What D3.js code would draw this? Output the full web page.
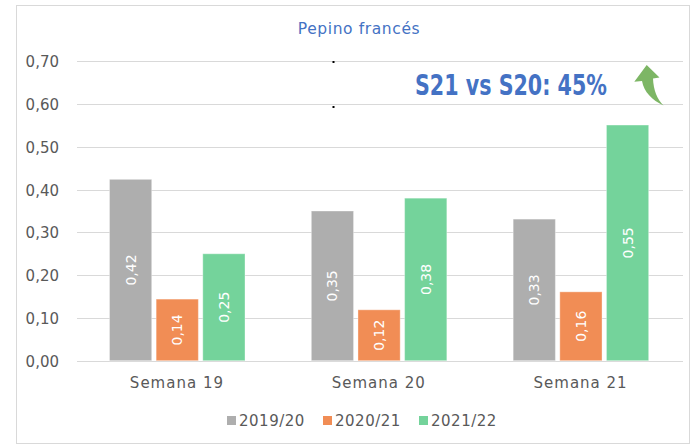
<!DOCTYPE html>
<html>
<head>
<meta charset="utf-8">
<script src="https://cdn.jsdelivr.net/npm/d3@7"></script>
<style>
  html, body { margin: 0; padding: 0; background: #fff; }
  svg { display: block; }
</style>
</head>
<body>
<svg id="chart" width="690" height="446"></svg>
<script>
const categories = ["Semana 19", "Semana 20", "Semana 21"];
const seriesNames = ["2019/20", "2020/21", "2021/22"];
const values2019_20 = [0.424, 0.350, 0.331];
const values2020_21 = [0.144, 0.119, 0.161];
const values2021_22 = [0.250, 0.380, 0.551];
const yTicks = [0, 0.1, 0.2, 0.3, 0.4, 0.5, 0.6, 0.7];
const colors = ["#AEAEAE", "#F18D55", "#74D39B"];
const titleText = "Pepino francés";
const annotationText = "S21 vs S20: 45%";

const seriesValues = [values2019_20, values2020_21, values2021_22];
const data = categories.map((c, i) => ({
  category: c,
  values: seriesNames.map((s, j) => ({ series: s, idx: j, value: seriesValues[j][i] }))
}));

const svg = d3.select("#chart");
const font = "'DejaVu Sans', sans-serif";
const textColor = "#595959";

// outer border
svg.append("rect")
  .attr("x", 16.5).attr("y", 5.5)
  .attr("width", 673).attr("height", 438)
  .attr("fill", "none").attr("stroke", "#D9D9D9").attr("stroke-width", 1);

const y = d3.scaleLinear().domain([0, 0.7]).range([360.7, 61.3]);
const x0 = d3.scaleBand().domain(categories).range([76, 681.5]).padding(0);
const x1 = d3.scaleBand().domain(seriesNames).range([33.5, 169]).paddingInner(0.095).paddingOuter(0);

// gridlines
svg.append("g").selectAll("line").data(yTicks).join("line")
  .attr("x1", 77).attr("x2", 683)
  .attr("y1", d => Math.round(y(d)) + 0.5).attr("y2", d => Math.round(y(d)) + 0.5)
  .attr("stroke", "#D9D9D9").attr("stroke-width", 1);

// y axis labels
const fmt = d => d3.format(".2f")(d).replace(".", ",");
const yAxis = d3.axisLeft(y).tickValues(yTicks).tickFormat(fmt).tickSize(0).tickPadding(0);
const yg = svg.append("g").attr("transform", "translate(59,0)").call(yAxis);
yg.select(".domain").remove();
yg.selectAll("text")
  .attr("font-family", font).attr("font-size", "15px").attr("fill", textColor)
  .attr("dy", "0.36em").attr("x", 0);

// bars
const groups = svg.append("g").selectAll("g").data(data).join("g")
  .attr("transform", d => `translate(${x0(d.category)},0)`);

groups.selectAll("rect").data(d => d.values).join("rect")
  .attr("x", d => x1(d.series))
  .attr("y", d => y(d.value))
  .attr("width", x1.bandwidth())
  .attr("height", d => y(0) - y(d.value))
  .attr("fill", d => colors[d.idx])
  .attr("stroke", "#ffffff").attr("stroke-opacity", 0.35).attr("stroke-width", 1);

// bar value labels (rotated)
groups.selectAll("text").data(d => d.values).join("text")
  .attr("transform", d => {
    const cx = x1(d.series) + x1.bandwidth() / 2;
    const cy = (y(d.value) + y(0)) / 2;
    return `translate(${cx},${cy}) rotate(-90)`;
  })
  .attr("text-anchor", "middle").attr("dy", "0.36em")
  .attr("font-family", font).attr("font-size", "14px").attr("fill", "#ffffff")
  .text(d => fmt(d.value));

// x axis labels
const xAxis = d3.axisBottom(x0).tickSize(0).tickPadding(0);
const xg = svg.append("g").attr("transform", "translate(0,383)").call(xAxis);
xg.select(".domain").remove();
xg.selectAll("text")
  .attr("font-family", font).attr("font-size", "15px").attr("fill", textColor)
  .attr("letter-spacing", "1px").attr("y", 0).attr("dy", "0.36em");

// title
svg.append("text")
  .attr("x", 359).attr("y", 34)
  .attr("text-anchor", "middle")
  .attr("font-family", font).attr("font-size", "15.5px").attr("letter-spacing", "0.6px")
  .attr("fill", "#4472C4")
  .text(titleText);

// legend
const legendX = [227, 323, 419];
const legend = svg.append("g").selectAll("g").data(seriesNames).join("g")
  .attr("transform", (d, i) => `translate(${legendX[i]},416)`);
legend.append("rect").attr("width", 9).attr("height", 9).attr("fill", (d, i) => colors[i]);
legend.append("text").attr("x", 12).attr("y", 4.5).attr("dy", "0.36em")
  .attr("font-family", font).attr("font-size", "15px").attr("letter-spacing", "0.5px")
  .attr("fill", textColor).text(d => d);

// annotation
svg.append("text")
  .attr("x", 415).attr("y", 95)
  .attr("font-family", "'Liberation Sans Narrow', 'DejaVu Sans Condensed', 'Liberation Sans', sans-serif")
  .attr("font-weight", "bold").attr("font-size", "28px")
  .attr("fill", "#4472C4")
  .attr("textLength", 192).attr("lengthAdjust", "spacingAndGlyphs")
  .text(annotationText);

// curved arrow
svg.append("path")
  .attr("d", "M646.7,65 L659.5,77.5 L653,78.5 C653.5,90 657,99 663.5,105.5 C652,100 644,92 642,81 L634.3,81.8 Z")
  .attr("fill", "#7DB665");

// small artifact dots
svg.append("g").selectAll("rect").data([61, 106]).join("rect")
  .attr("x", 332.5).attr("y", d => d).attr("width", 2).attr("height", 2).attr("fill", "#000");
</script>
</body>
</html>
